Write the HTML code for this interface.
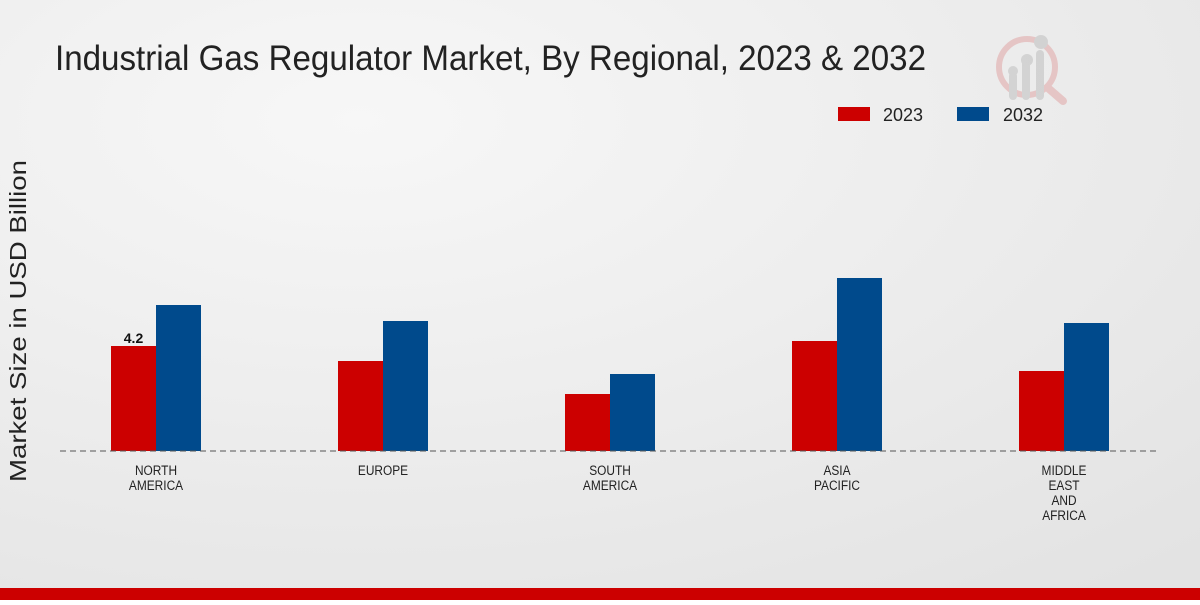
<!DOCTYPE html>
<html><head><meta charset="utf-8"><style>
body{margin:0;width:1200px;height:600px;overflow:hidden;font-family:"Liberation Sans",sans-serif}
</style></head><body>
<svg width="1200" height="600" xmlns="http://www.w3.org/2000/svg">
<defs><radialGradient id="bg" cx="0.3" cy="0.2" r="1"><stop offset="0" stop-color="#f7f7f7"/><stop offset="1" stop-color="#e3e3e3"/></radialGradient></defs>
<rect width="1200" height="600" fill="url(#bg)"/>
<text x="55" y="70" font-size="35" fill="#222" textLength="871" lengthAdjust="spacingAndGlyphs">Industrial Gas Regulator Market, By Regional, 2023 &amp; 2032</text>
<g opacity="0.5">
<circle cx="1027" cy="67" r="28" fill="none" stroke="#e0a0a0" stroke-width="6"/>
<line x1="1048" y1="88" x2="1063" y2="101" stroke="#e0a0a0" stroke-width="8" stroke-linecap="round"/>
<rect x="1009" y="72" width="8" height="28" rx="4" fill="#bbb"/><rect x="1022" y="60" width="8" height="40" rx="4" fill="#bbb"/><rect x="1036" y="50" width="8" height="50" rx="4" fill="#bbb"/>
<circle cx="1041" cy="42" r="7" fill="#bbb"/><circle cx="1027" cy="60" r="6" fill="#bbb"/><circle cx="1013" cy="71" r="5" fill="#bbb"/>
</g>
<g>
<rect x="838" y="107" width="32" height="14" fill="#cc0000"/>
<text x="883" y="121" font-size="18" fill="#222" textLength="40" lengthAdjust="spacingAndGlyphs">2023</text>
<rect x="957" y="107" width="32" height="14" fill="#004a8c"/>
<text x="1003" y="121" font-size="18" fill="#222" textLength="40" lengthAdjust="spacingAndGlyphs">2032</text>
</g>
<text transform="translate(26,321) rotate(-90)" text-anchor="middle" font-size="23" fill="#222" textLength="322" lengthAdjust="spacingAndGlyphs">Market Size in USD Billion</text>
<g id="bars"></g>
<line x1="60" y1="451" x2="1160" y2="451" stroke="#555" stroke-dasharray="6,4"/>
<g id="labels"></g>
<rect x="0" y="588" width="1200" height="12" fill="#cc0000"/>
</svg>
<script>
const categories=[["NORTH","AMERICA"],["EUROPE"],["SOUTH","AMERICA"],["ASIA","PACIFIC"],["MIDDLE","EAST","AND","AFRICA"]];
const values2023=[4.2,3.6,2.28,4.4,3.2];
const values2032=[5.84,5.2,3.08,6.92,5.12];
const valueLabels=["4.2",null,null,null,null];
const NS="http://www.w3.org/2000/svg";
const base=451, scale=25, x0=156, step=227, bw=45;
const yS=v=>base-v*scale, xS=i=>x0+i*step;
const bars=document.getElementById('bars'), labels=document.getElementById('labels');
function mk(t,a){const e=document.createElementNS(NS,t);for(const k in a)e.setAttribute(k,a[k]);return e;}
categories.forEach((c,i)=>{
  const cx=xS(i);
  const r=mk('rect',{x:cx-bw,y:yS(values2023[i]),width:bw,height:base-yS(values2023[i]),fill:'#cc0000'});
  
  
  bars.appendChild(r);
  const b=mk('rect',{x:cx,y:yS(values2032[i]),width:bw,height:base-yS(values2032[i]),fill:'#004a8c'});
  
  
  bars.appendChild(b);
  if(valueLabels[i]){
    const t=mk('text',{x:cx-bw/2,y:yS(values2023[i])-3,'text-anchor':'middle','font-size':14,'font-weight':'bold',fill:'#111'});
    t.textContent=valueLabels[i];
    
    
    labels.appendChild(t);
  }
  c.forEach((line,j)=>{
    const t=mk('text',{transform:'translate('+cx+','+(475+j*15)+') scale(0.85,1)','text-anchor':'middle','font-size':14,fill:'#222'});
    t.textContent=line;
    
    
    labels.appendChild(t);
  });
});
</script>
</body></html>
